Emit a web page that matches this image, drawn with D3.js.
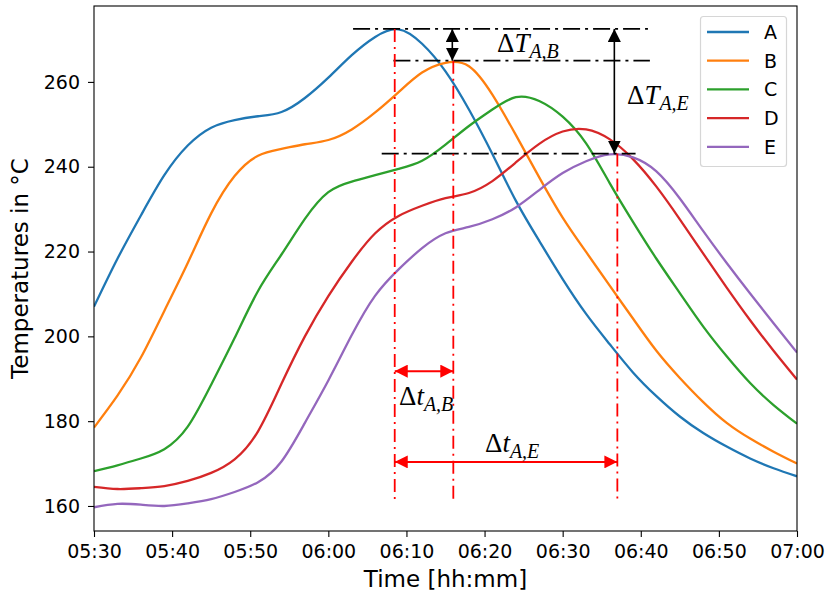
<!DOCTYPE html>
<html>
<head>
<meta charset="utf-8">
<script src="https://cdn.jsdelivr.net/npm/d3@7"></script>
<style>
  body { margin: 0; background: #fff; }
  svg { display: block; }
</style>
</head>
<body>
<div id="canvas"></div>
<script>
"use strict"

/* Data: one value every 3 minutes */
let times = ["05:30", "05:33", "05:36", "05:39", "05:42", "05:45", "05:48", "05:51", "05:54", "05:57",
    "06:00", "06:03", "06:06", "06:09", "06:12", "06:15", "06:18", "06:21", "06:24", "06:27",
    "06:30", "06:33", "06:36", "06:39", "06:42", "06:45", "06:48", "06:51", "06:54", "06:57", "07:00"];

let seriesNames = ["A", "B", "C", "D", "E"];

let valuesA = [207, 218.3, 228.5, 238, 245, 249.2, 251, 251.9, 252.9, 256.2,
    261, 266.3, 270.6, 272.4, 269, 262.5, 253.5, 243, 232, 222.5,
    213.5, 205.3, 198.2, 191.5, 185.9, 181.1, 177.2, 174, 171.2, 168.9, 167];

let valuesB = [178.5, 186, 195, 206, 217.3, 229, 237.8, 242.6, 244.2, 245.3,
    246.3, 248.8, 252.8, 257.6, 262.2, 264.5, 263.7, 257, 247.5, 237.5,
    228, 219.9, 212, 204.2, 196.6, 190.2, 184.5, 179.6, 175.9, 172.8, 170];

let valuesC = [168.2, 169.6, 171.2, 173.4, 178.7, 188.6, 199.6, 210.7, 219.3, 227.7,
    234, 236.5, 238, 239.5, 241.4, 245.2, 249.6, 253.5, 256.4, 255.5,
    251.8, 245.5, 236.2, 227, 218.3, 210.2, 202.3, 195.3, 189, 183.8, 179.4];

let valuesD = [164.5, 164, 164.2, 164.7, 165.9, 167.8, 171, 177.6, 188.8, 200,
    209.5, 217.6, 224.3, 228.4, 230.8, 232.6, 233.8, 236.6, 241, 245.4,
    248.3, 248.8, 246.5, 241.8, 235.3, 227.6, 219.5, 211.5, 203.8, 196.6, 189.8];

let valuesE = [159.7, 160.5, 160.3, 160, 160.6, 161.6, 163.3, 165.6, 170.5, 179.6,
    189.6, 200.3, 209.6, 215.8, 220.8, 224.3, 225.8, 227.6, 230.4, 234.5,
    238.5, 241.3, 242.9, 242.2, 238.9, 232.5, 224.8, 217.3, 210.1, 203.1, 196.2];

let seriesValues = [valuesA, valuesB, valuesC, valuesD, valuesE];
let colors = ["#1f77b4", "#ff7f0e", "#2ca02c", "#d62728", "#9467bd"];

/* Annotated peaks (A, B, E) */
let peakTimes = ["06:08:30", "06:16:00", "06:37:00"];
let peakValues = [272.5, 265, 243.1];
let peakLineStart = ["06:03:10", "06:08:20", "06:06:50"];
let peakLineEnd = ["06:40:55", "06:41:10", "06:39:20"];
let vLineBottom = 161;
let dtArrowValues = [191.8, 170.4];

let yTicks = [160, 180, 200, 220, 240, 260];

/* Configuration variables: drawing */
let svgWidth = 826;
let svgHeight = 596;
let margin = { top: 6, right: 29, bottom: 65, left: 94 };

let svg = d3.select("#canvas")
    .append("svg")
    .attr("width", svgWidth)
    .attr("height", svgHeight);

let parseTime = d3.timeParse("%H:%M");
let parseTimeSec = d3.timeParse("%H:%M:%S");

let x = d3.scaleTime()
    .domain([parseTime("05:30"), parseTime("07:00")])
    .range([margin.left, svgWidth - margin.right]);

let y = d3.scaleLinear()
    .domain([154.1, 277.9])
    .range([svgHeight - margin.bottom, margin.top]);

/* defs: arrow heads, clip */
let defs = svg.append("defs");
function arrowHead(id, color) {
    defs.append("marker")
        .attr("id", id)
        .attr("viewBox", "0 0 10 10")
        .attr("refX", 10)
        .attr("refY", 5)
        .attr("markerUnits", "userSpaceOnUse")
        .attr("markerWidth", 13)
        .attr("markerHeight", 13)
        .attr("orient", "auto-start-reverse")
        .append("path")
        .attr("d", "M0,0 L10,5 L0,10 Z")
        .attr("fill", color);
}
arrowHead("headBlack", "black");
arrowHead("headRed", "red");

defs.append("clipPath")
    .attr("id", "plotClip")
    .append("rect")
    .attr("x", margin.left)
    .attr("y", margin.top)
    .attr("width", svgWidth - margin.left - margin.right)
    .attr("height", svgHeight - margin.top - margin.bottom);

/* curves */
let line = d3.line()
    .x(function (d) { return x(d.t); })
    .y(function (d) { return y(d.v); })
    .curve(d3.curveNatural);

let curves = svg.append("g").attr("clip-path", "url(#plotClip)");
seriesValues.forEach(function (vals, i) {
    let pts = vals.map(function (v, j) { return { t: parseTime(times[j]), v: v }; });
    curves.append("path")
        .datum(pts)
        .attr("fill", "none")
        .attr("stroke", colors[i])
        .attr("stroke-width", 2.3)
        .attr("d", line);
});

/* annotations: horizontal black dash-dot lines at the peaks */
let annot = svg.append("g");
peakValues.forEach(function (v, i) {
    annot.append("line")
        .attr("x1", x(parseTimeSec(peakLineStart[i])))
        .attr("x2", x(parseTimeSec(peakLineEnd[i])))
        .attr("y1", y(v))
        .attr("y2", y(v))
        .attr("stroke", "black")
        .attr("stroke-width", 1.8)
        .attr("stroke-dasharray", "17,5,3,5");
});

/* red vertical dash-dot lines */
peakTimes.forEach(function (t, i) {
    annot.append("line")
        .attr("x1", x(parseTimeSec(t)))
        .attr("x2", x(parseTimeSec(t)))
        .attr("y1", y(peakValues[i]))
        .attr("y2", y(vLineBottom))
        .attr("stroke", "red")
        .attr("stroke-width", 1.8)
        .attr("stroke-dasharray", "13,5,2,5");
});

/* black double arrows (delta T) */
[1, 2].forEach(function (k) {
    let xp = x(parseTimeSec(peakTimes[k])) - (k === 1 ? 1 : 3);
    annot.append("line")
        .attr("x1", xp).attr("x2", xp)
        .attr("y1", y(peakValues[0]))
        .attr("y2", y(peakValues[k]))
        .attr("stroke", "black")
        .attr("stroke-width", 1.6)
        .attr("marker-start", "url(#headBlack)")
        .attr("marker-end", "url(#headBlack)");
});

/* red double arrows (delta t) */
[1, 2].forEach(function (k, i) {
    annot.append("line")
        .attr("x1", x(parseTimeSec(peakTimes[0])))
        .attr("x2", x(parseTimeSec(peakTimes[k])))
        .attr("y1", y(dtArrowValues[i]))
        .attr("y2", y(dtArrowValues[i]))
        .attr("stroke", "red")
        .attr("stroke-width", 2)
        .attr("marker-start", "url(#headRed)")
        .attr("marker-end", "url(#headRed)");
});

/* math labels */
function mathLabel(px, py, sym, sub) {
    let t = annot.append("text")
        .attr("x", px)
        .attr("y", py)
        .attr("fill", "black")
        .style("font-family", "'Liberation Serif', serif")
        .style("font-size", "27px");
    t.append("tspan").text("Δ");
    t.append("tspan").style("font-style", "italic").text(sym);
    t.append("tspan")
        .style("font-style", "italic")
        .style("font-size", "20px")
        .attr("dy", 6)
        .text(sub);
}
mathLabel(497, 52, "T", "A,B");
mathLabel(627, 104, "T", "A,E");
mathLabel(399, 405, "t", "A,B");
mathLabel(485, 452, "t", "A,E");

/* axes */
let xAxis = d3.axisBottom(x)
    .ticks(d3.timeMinute.every(10))
    .tickFormat(d3.timeFormat("%H:%M"))
    .tickSize(6)
    .tickPadding(8);
let yAxis = d3.axisLeft(y)
    .tickValues(yTicks)
    .tickSize(6)
    .tickPadding(8);

let gx = svg.append("g")
    .attr("transform", "translate(0," + (svgHeight - margin.bottom) + ")")
    .call(xAxis);
let gy = svg.append("g")
    .attr("transform", "translate(" + margin.left + ",0)")
    .call(yAxis);

[gx, gy].forEach(function (g) {
    g.select(".domain").remove();
    g.selectAll("text")
        .style("font-family", "'DejaVu Sans', sans-serif")
        .style("font-size", "19px")
        .attr("fill", "#000");
    g.selectAll("line").attr("stroke", "#000").attr("stroke-width", 1.1);
});

/* frame */
svg.append("rect")
    .attr("x", margin.left)
    .attr("y", margin.top)
    .attr("width", svgWidth - margin.left - margin.right)
    .attr("height", svgHeight - margin.top - margin.bottom)
    .attr("fill", "none")
    .attr("stroke", "black")
    .attr("stroke-width", 1.1);

/* axis labels */
svg.append("text")
    .attr("x", (margin.left + svgWidth - margin.right) / 2)
    .attr("y", 587)
    .attr("text-anchor", "middle")
    .style("font-family", "'DejaVu Sans', sans-serif")
    .style("font-size", "23px")
    .text("Time [hh:mm]");

svg.append("text")
    .attr("transform", "translate(28," + ((margin.top + svgHeight - margin.bottom) / 2) + ") rotate(-90)")
    .attr("text-anchor", "middle")
    .style("font-family", "'DejaVu Sans', sans-serif")
    .style("font-size", "23px")
    .text("Temperatures in °C");

/* legend */
let legend = svg.append("g");
legend.append("rect")
    .attr("x", 700.5)
    .attr("y", 16.5)
    .attr("width", 86)
    .attr("height", 150)
    .attr("rx", 3)
    .attr("fill", "white")
    .attr("fill-opacity", 0.8)
    .attr("stroke", "#d6d6d6")
    .attr("stroke-width", 1.2);

seriesNames.forEach(function (name, i) {
    let ly = 32 + i * 28.7;
    legend.append("line")
        .attr("x1", 707).attr("x2", 749)
        .attr("y1", ly).attr("y2", ly)
        .attr("stroke", colors[i])
        .attr("stroke-width", 2.3);
    legend.append("text")
        .attr("x", 764)
        .attr("y", ly)
        .attr("dy", "0.36em")
        .style("font-family", "'DejaVu Sans', sans-serif")
        .style("font-size", "19px")
        .text(name);
});
</script>
</body>
</html>
